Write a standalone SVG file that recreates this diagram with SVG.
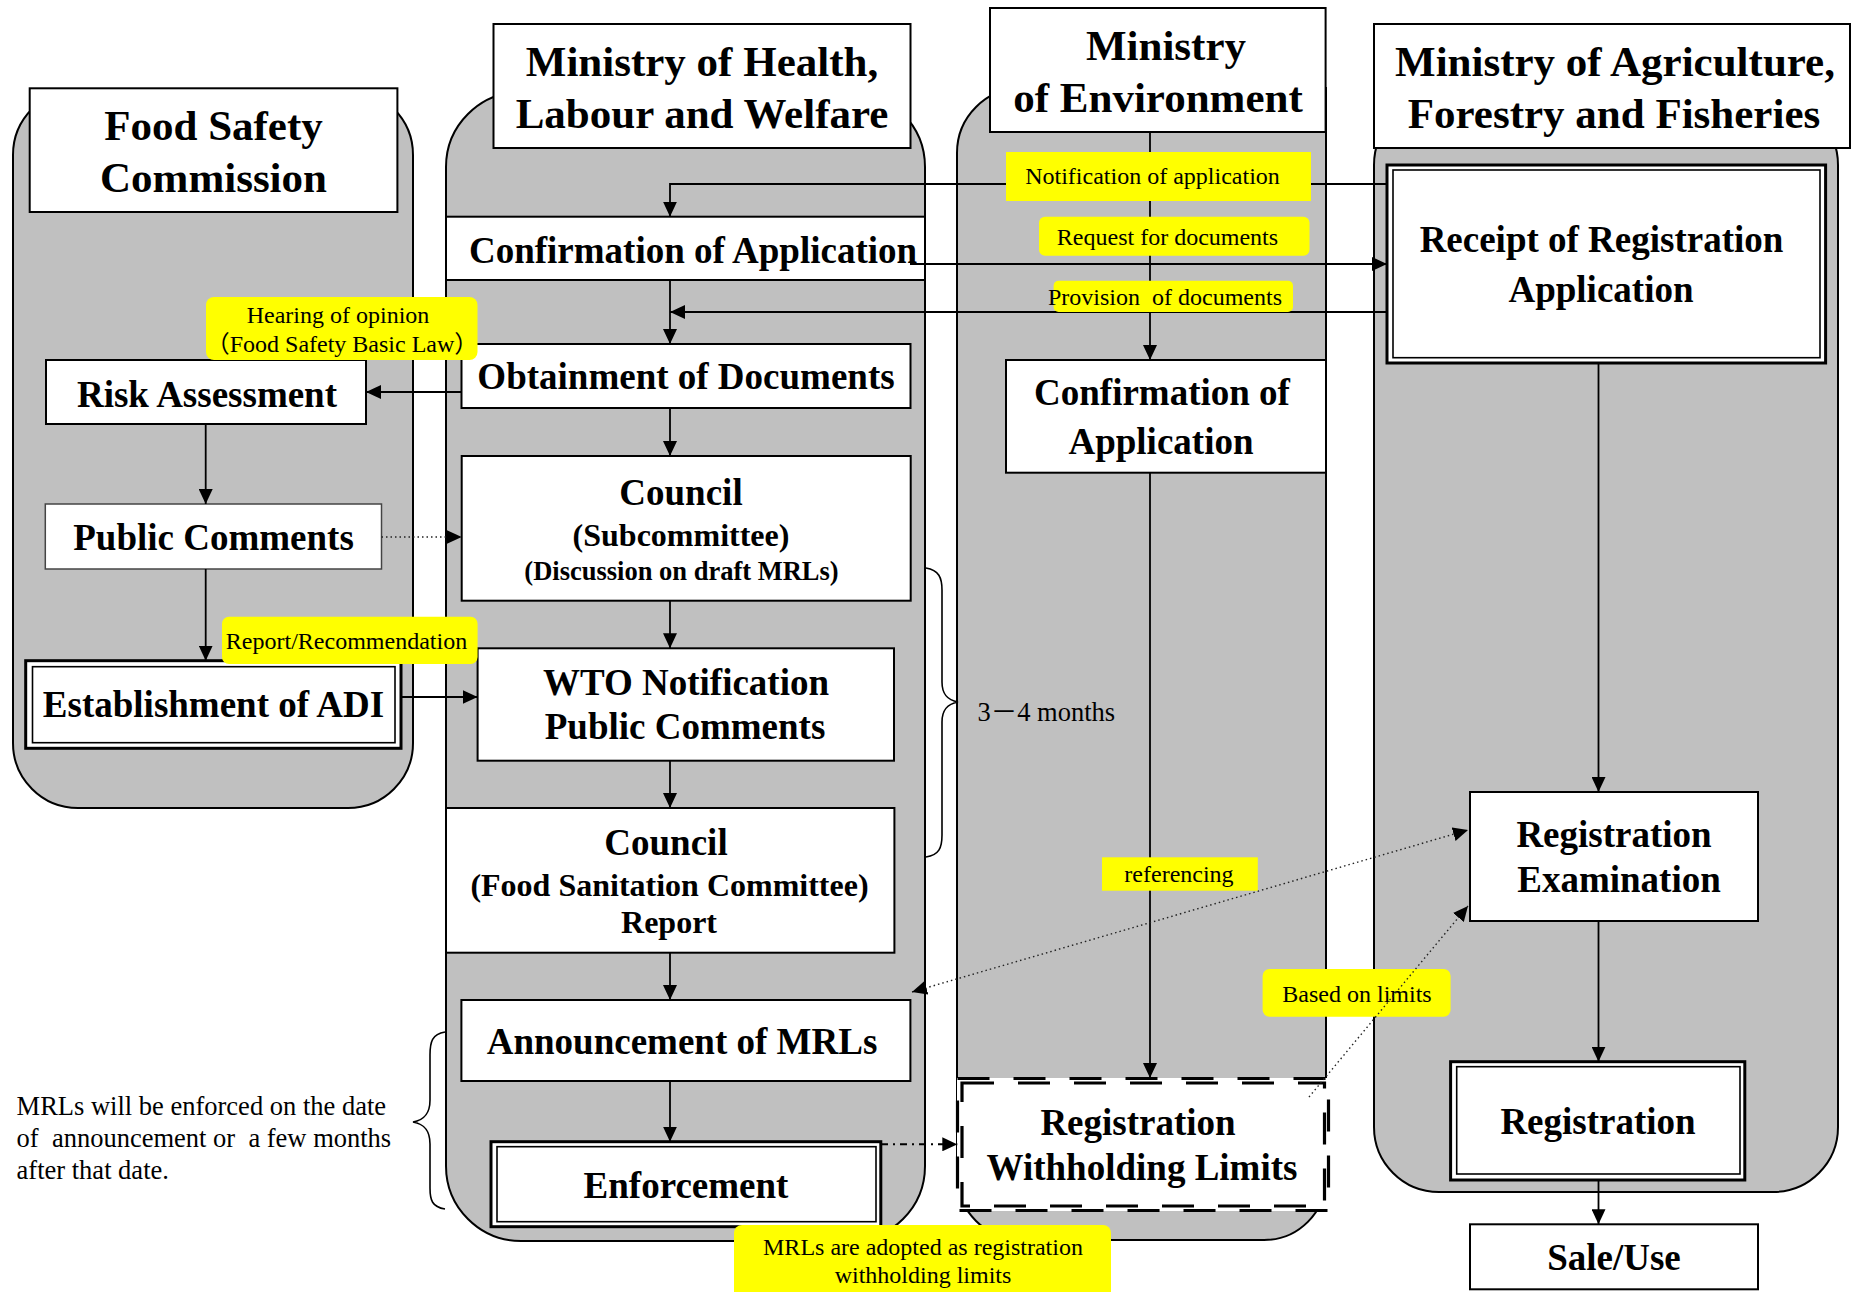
<svg xmlns="http://www.w3.org/2000/svg" width="1851" height="1292" viewBox="0 0 1851 1292">
<defs>
  <marker id="arrow" viewBox="0 0 15 14" refX="15" refY="7" markerWidth="15" markerHeight="14" markerUnits="userSpaceOnUse" orient="auto-start-reverse">
    <path d="M0,0 L15,7 L0,14 Z" fill="#000"/>
  </marker>
</defs>
<style>
  .lane{fill:#c0c0c0;stroke:#000;stroke-width:2}
  .box{fill:#fff;stroke:#000;stroke-width:2}
  .outer{fill:#fff;stroke:#000;stroke-width:3}
  .inner{fill:none;stroke:#000;stroke-width:1.6}
  .dash{fill:none;stroke:#000;stroke-width:3.2;stroke-dasharray:32 24}
  .hd{font-family:"Liberation Serif","Times New Roman",serif;font-weight:bold;font-size:43px;text-anchor:middle;fill:#000}
  .b37{font-family:"Liberation Serif","Times New Roman",serif;font-weight:bold;font-size:37px;text-anchor:middle;fill:#000}
  .b32{font-family:"Liberation Serif","Times New Roman",serif;font-weight:bold;font-size:32px;text-anchor:middle;fill:#000}
  .b26{font-family:"Liberation Serif","Times New Roman",serif;font-weight:bold;font-size:26.5px;text-anchor:middle;fill:#000}
  .tag{fill:#ffff00}
  .lt{font-family:"Liberation Serif","Times New Roman","Noto Sans CJK JP",serif;font-size:24px;text-anchor:middle;fill:#000}
  .note{font-family:"Liberation Serif","Times New Roman","Noto Sans CJK JP",serif;font-size:26.5px;fill:#000}
  .cn{fill:none;stroke:#000;stroke-width:1.8}
  .dot{fill:none;stroke:#222;stroke-width:1.4;stroke-dasharray:1.5 3}
  .dd{fill:none;stroke:#000;stroke-width:2;stroke-dasharray:7 5 2 5}
  .brace{fill:none;stroke:#000;stroke-width:1.6}
</style>

<!-- swimlanes -->
<g id="lanes">
  <rect id="lane-fsc" class="lane" x="13" y="90" width="400" height="718" rx="65"/>
  <rect id="lane-mhlw" class="lane" x="446" y="92" width="479" height="1149" rx="75"/>
  <path id="lane-moe" class="lane" d="M957,153 A65,65 0 0 1 1022,88 L1326,88 L1326,1178 A62,62 0 0 1 1264,1240 L1022,1240 A65,65 0 0 1 957,1175 Z"/>
  <rect id="lane-maff" class="lane" x="1374" y="100" width="464" height="1092" rx="65"/>
</g>

<!-- lane headers -->
<g id="hdr-fsc">
  <rect class="box" x="29.7" y="88.3" width="367.7" height="123.7"/>
  <text class="hd" x="213.5" y="140">Food Safety</text>
  <text class="hd" x="213.5" y="191.7">Commission</text>
</g>
<g id="hdr-mhlw">
  <rect class="box" x="493.5" y="24" width="417" height="124"/>
  <text class="hd" x="702" y="76">Ministry of Health,</text>
  <text class="hd" x="702" y="128.3">Labour and Welfare</text>
</g>
<g id="hdr-moe">
  <rect class="box" x="990" y="8" width="335.6" height="124"/>
  <text class="hd" x="1166" y="60">Ministry</text>
  <text class="hd" x="1158" y="111.7">of Environment</text>
</g>
<g id="hdr-maff">
  <rect class="box" x="1374" y="24" width="476" height="124"/>
  <text class="hd" x="1615" y="76">Ministry of Agriculture,</text>
  <text class="hd" x="1614" y="128.3">Forestry and Fisheries</text>
</g>

<!-- Food Safety Commission nodes -->
<g id="risk-assessment">
  <rect class="box" x="46" y="360" width="320" height="64"/>
  <text class="b37" x="207" y="406.7">Risk Assessment</text>
</g>
<g id="public-comments-fsc">
  <rect class="box" x="45.3" y="504" width="336.2" height="65" style="stroke:#444;stroke-width:1.5"/>
  <text class="b37" x="213.5" y="550">Public Comments</text>
</g>
<g id="adi">
  <rect class="outer" x="25.7" y="660.7" width="375.3" height="87.6"/>
  <rect class="inner" x="32.5" y="666.7" width="362.5" height="76"/>
  <text class="b37" x="213.5" y="716.7">Establishment of ADI</text>
</g>

<!-- Ministry of Health, Labour and Welfare nodes -->
<g id="confirm-mhlw">
  <rect class="box" x="446" y="216.7" width="479" height="63.3"/>
  <text class="b37" x="693" y="263.3">Confirmation of Application</text>
</g>
<g id="obtain-docs">
  <rect class="box" x="461.5" y="344" width="449" height="64"/>
  <text class="b37" x="686" y="389.3">Obtainment of Documents</text>
</g>
<g id="council-sub">
  <rect class="box" x="461.7" y="456" width="449" height="144.7"/>
  <text class="b37" x="681" y="505">Council</text>
  <text class="b32" x="681" y="546">(Subcommittee)</text>
  <text class="b26" x="681.5" y="580">(Discussion on draft MRLs)</text>
</g>
<g id="wto">
  <rect class="box" x="477.6" y="648.3" width="416.4" height="112.4"/>
  <text class="b37" x="686" y="695">WTO Notification</text>
  <text class="b37" x="685" y="739.3">Public Comments</text>
</g>
<g id="council-fsc">
  <rect class="box" x="446" y="808" width="448.4" height="144.7"/>
  <text class="b37" x="666" y="855">Council</text>
  <text class="b32" x="669.5" y="896">(Food Sanitation Committee)</text>
  <text class="b32" x="669" y="932.7">Report</text>
</g>
<g id="announce">
  <rect class="box" x="461.4" y="1000" width="449" height="81"/>
  <text class="b37" x="682" y="1054.3">Announcement of MRLs</text>
</g>
<g id="enforce">
  <rect class="outer" x="491" y="1141.7" width="389.8" height="85"/>
  <rect class="inner" x="497" y="1146.7" width="379" height="75"/>
  <text class="b37" x="686" y="1198.3">Enforcement</text>
</g>

<!-- Ministry of Environment nodes -->
<g id="confirm-moe">
  <rect class="box" x="1006" y="360" width="320" height="112.7"/>
  <text class="b37" x="1162" y="405">Confirmation of</text>
  <text class="b37" x="1161" y="454">Application</text>
</g>
<g id="withholding">
  <rect x="957" y="1078" width="372" height="133" fill="#fff"/>
  <rect class="dash" x="957.5" y="1078.5" width="371" height="132"/>
  <rect class="dash" x="962" y="1083" width="362.5" height="123"/>
  <text class="b37" x="1138" y="1135">Registration</text>
  <text class="b37" x="1142" y="1180">Withholding Limits</text>
</g>

<!-- Ministry of Agriculture, Forestry and Fisheries nodes -->
<g id="receipt">
  <rect class="outer" x="1387" y="165" width="438.6" height="198"/>
  <rect class="inner" x="1393" y="170" width="427" height="187.7"/>
  <text class="b37" x="1601.5" y="251.7">Receipt of Registration</text>
  <text class="b37" x="1601" y="301.7">Application</text>
</g>
<g id="exam">
  <rect class="box" x="1470" y="792" width="288" height="129"/>
  <text class="b37" x="1614" y="847.3">Registration</text>
  <text class="b37" x="1619" y="891.7">Examination</text>
</g>
<g id="registration">
  <rect class="outer" x="1450.6" y="1061.7" width="294.2" height="118.3"/>
  <rect class="inner" x="1456.7" y="1066.7" width="283.3" height="107.3"/>
  <text class="b37" x="1598" y="1134.3">Registration</text>
</g>
<g id="sale-use">
  <rect class="box" x="1470" y="1224.3" width="288" height="65"/>
  <text class="b37" x="1614" y="1270">Sale/Use</text>
</g>

<!-- tag lying beneath its dotted connector -->
<g id="tag-based">
  <rect class="tag" x="1262.6" y="969" width="188" height="47.7" rx="7"/>
  <text class="lt" x="1357" y="1001.7">Based on limits</text>
</g>

<!-- connectors -->
<g id="connectors">
  <polyline class="cn" points="1387,184 670,184 670,216.7" marker-end="url(#arrow)"/>
  <line class="cn" x1="910" y1="264" x2="1387" y2="264" marker-end="url(#arrow)"/>
  <line class="cn" x1="1387" y1="312" x2="670" y2="312" marker-end="url(#arrow)"/>
  <line class="cn" x1="670" y1="280" x2="670" y2="344" marker-end="url(#arrow)"/>
  <line class="cn" x1="461.5" y1="392" x2="366" y2="392" marker-end="url(#arrow)"/>
  <line class="cn" x1="670" y1="408" x2="670" y2="456" marker-end="url(#arrow)"/>
  <line class="cn" x1="205.7" y1="424" x2="205.7" y2="504" marker-end="url(#arrow)"/>
  <line class="dot" x1="381.5" y1="537" x2="461.7" y2="537" marker-end="url(#arrow)"/>
  <line class="cn" x1="205.7" y1="569" x2="205.7" y2="660.7" marker-end="url(#arrow)"/>
  <line class="cn" x1="401" y1="697" x2="477.6" y2="697" marker-end="url(#arrow)"/>
  <line class="cn" x1="670" y1="600.7" x2="670" y2="648.3" marker-end="url(#arrow)"/>
  <line class="cn" x1="670" y1="760.7" x2="670" y2="808" marker-end="url(#arrow)"/>
  <line class="cn" x1="670" y1="952.7" x2="670" y2="1000" marker-end="url(#arrow)"/>
  <line class="cn" x1="670" y1="1081" x2="670" y2="1141.7" marker-end="url(#arrow)"/>
  <line class="dd" x1="881" y1="1144.3" x2="957.3" y2="1144.3" marker-end="url(#arrow)"/>
  <line class="cn" x1="1150" y1="132" x2="1150" y2="360" marker-end="url(#arrow)"/>
  <line class="cn" x1="1150" y1="472.7" x2="1150" y2="1078" marker-end="url(#arrow)"/>
  <line class="cn" x1="1598.5" y1="363" x2="1598.5" y2="792" marker-end="url(#arrow)"/>
  <line class="cn" x1="1598.5" y1="921" x2="1598.5" y2="1061.7" marker-end="url(#arrow)"/>
  <line class="cn" x1="1598.5" y1="1180" x2="1598.5" y2="1224.3" marker-end="url(#arrow)"/>
  <line class="dot" x1="912" y1="992" x2="1468" y2="830" marker-start="url(#arrow)" marker-end="url(#arrow)"/>
  <line class="dot" x1="1309" y1="1097" x2="1468" y2="906" marker-end="url(#arrow)"/>
</g>

<!-- braces -->
<g id="brace-months">
  <path class="brace" d="M926,568 C939,570 942,578 942,590 L942,682 C942,694 947,700 958,702 C947,704 942,710 942,722 L942,835 C942,848 939,855 926,857"/>
  <text class="note" x="977.5" y="720.7">3－4 months</text>
</g>
<g id="brace-enforce">
  <path class="brace" d="M445,1032 C432,1034 430,1042 430,1055 L430,1100 C430,1114 424,1120 413,1122 C424,1124 430,1130 430,1144 L430,1188 C430,1200 432,1207 445,1209"/>
  <text class="note" x="16.6" y="1115">MRLs will be enforced on the date</text>
  <text class="note" x="16.6" y="1147.3" xml:space="preserve">of  announcement or  a few months</text>
  <text class="note" x="16.6" y="1179.3">after that date.</text>
</g>

<!-- yellow tags -->
<g id="tags">
  <g id="tag-notify">
    <rect class="tag" x="1006" y="152" width="305" height="49"/>
    <text class="lt" x="1152.5" y="184.3">Notification of application</text>
  </g>
  <g id="tag-request">
    <rect class="tag" x="1039" y="216.7" width="270.5" height="39" rx="6"/>
    <text class="lt" x="1167.5" y="245">Request for documents</text>
  </g>
  <g id="tag-provision">
    <rect class="tag" x="1053.6" y="280.7" width="239.4" height="31.3" rx="5"/>
    <text class="lt" x="1048" y="305" style="text-anchor:start" xml:space="preserve">Provision  of documents</text>
  </g>
  <g id="tag-hearing">
    <rect class="tag" x="206" y="297" width="271.5" height="63" rx="8"/>
    <text class="lt" x="338" y="323.3">Hearing of opinion</text>
    <text class="lt" x="342" y="351.7">（Food Safety Basic Law）</text>
  </g>
  <g id="tag-report">
    <rect class="tag" x="222" y="616.7" width="255.6" height="47.3" rx="7"/>
    <text class="lt" x="346.5" y="649">Report/Recommendation</text>
  </g>
  <g id="tag-referencing">
    <rect class="tag" x="1102" y="857.3" width="155.8" height="33.4"/>
    <text class="lt" x="1179" y="882.3">referencing</text>
  </g>
  <g id="tag-adopted">
    <rect class="tag" x="734" y="1225" width="377" height="80" rx="8"/>
    <text class="lt" x="923" y="1255">MRLs are adopted as registration</text>
    <text class="lt" x="923" y="1283.3">withholding limits</text>
  </g>
</g>
</svg>
